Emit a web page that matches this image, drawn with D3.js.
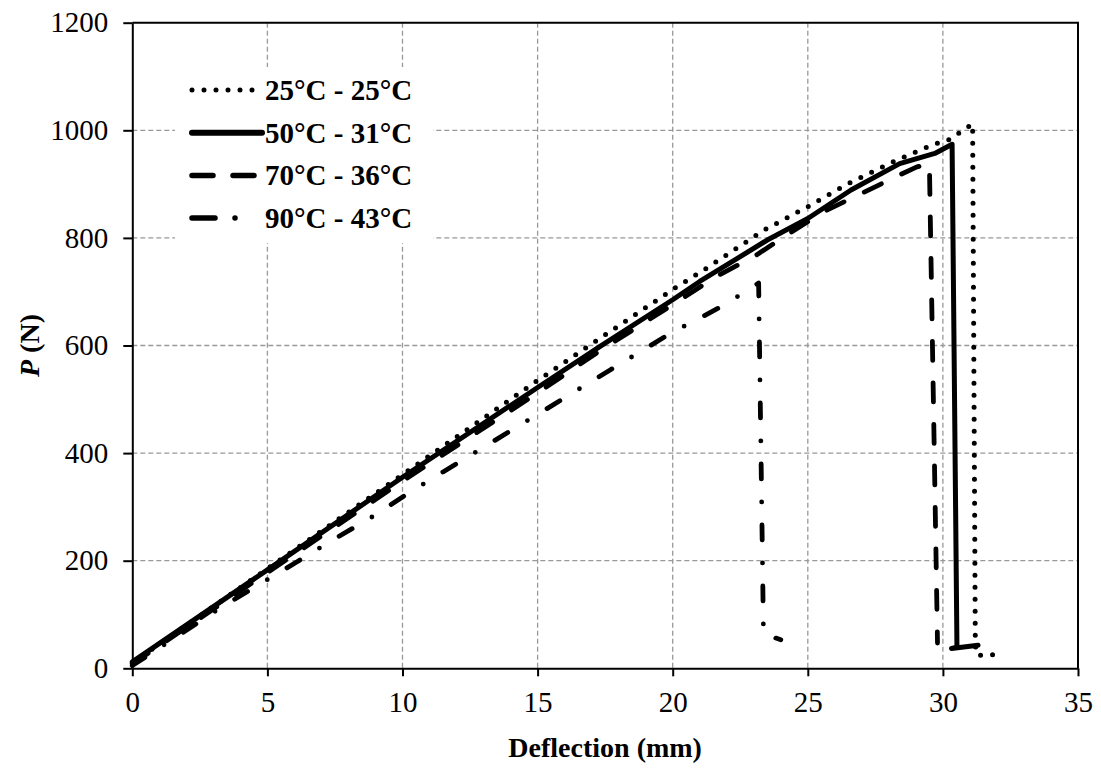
<!DOCTYPE html>
<html>
<head>
  <meta charset="utf-8">
  <title>Load - deflection</title>
  <script src="https://d3js.org/d3.v7.min.js"></script>
  <style>
    body {
      margin: 0;
      background: #fff;
    }
    svg text {
      font-family: 'Liberation Serif', 'Times New Roman', serif;
      fill: #000;
    }
  </style>
</head>
<body>
  <div id="chart"></div>

  <script>
    // Series (deflection in mm, load in N)
    const names = ["25°C - 25°C", "50°C - 31°C", "70°C - 36°C", "90°C - 43°C"];

    const x25 = [0, 5, 10, 15, 17.3, 20, 21.2, 23.4, 25, 26.5, 28.1, 29.7, 30.15, 31.1, 31.2, 31.26, 32.15];
    const y25 = [10, 185, 360, 535, 613, 704, 742, 815, 858, 901, 940, 975, 980, 1012, 43, 24, 26];

    const x50 = [0, 5, 10, 15, 17.3, 20, 21, 23.5, 25, 26.6, 28.4, 29.7, 30.34, 30.52, 30.32, 31.3];
    const y50 = [12, 183, 355, 522, 598, 685, 719, 796, 836, 889, 938, 957, 974, 39, 37, 43];

    const x70 = [0, 5, 10, 15, 17.3, 20, 21.6, 23, 24.3, 25.6, 27, 28.4, 29.04, 29.5, 29.8];
    const y70 = [8, 178, 348, 512, 590, 676, 728, 765, 808, 849, 883, 917, 932, 938, 47];

    const x90 = [0, 3.25, 6.1, 7.4, 8.8, 10.2, 11.5, 15, 17.7, 20, 21, 21.9, 23.18, 23.36, 24.0];
    const y90 = [5, 112, 198, 238, 279, 325, 365, 472, 555, 625, 651, 675, 716, 64, 53];

    const xTicks = [0, 5, 10, 15, 20, 25, 30, 35];
    const yTicks = [0, 200, 400, 600, 800, 1000, 1200];

    const width = 1101;
    const height = 772;
    const margin = {top: 22.7, right: 23, bottom: 103.7, left: 132.3};

    const svg = d3.select("#chart")
      .append("svg")
      .attr("width", width)
      .attr("height", height);

    const x = d3.scaleLinear()
      .domain([0, 35])
      .range([margin.left, width - margin.right]);

    const y = d3.scaleLinear()
      .domain([0, 1200])
      .range([height - margin.bottom, margin.top]);

    // dashed grey grid
    const grid = svg.append("g")
      .attr("stroke", "#999")
      .attr("stroke-width", 1.3)
      .attr("stroke-dasharray", "5,3");

    grid.selectAll("line.v")
      .data(xTicks.filter(d => d > 0 && d < 35))
      .join("line")
      .attr("class", "v")
      .attr("x1", d => x(d))
      .attr("x2", d => x(d))
      .attr("y1", y(1200))
      .attr("y2", y(0));

    grid.selectAll("line.h")
      .data(yTicks.filter(d => d > 0 && d < 1200))
      .join("line")
      .attr("class", "h")
      .attr("x1", x(0))
      .attr("x2", x(35))
      .attr("y1", d => y(d))
      .attr("y2", d => y(d));

    // top and right border
    svg.append("path")
      .attr("d", `M${x(0)},${y(1200)}H${x(35)}V${y(0)}`)
      .attr("fill", "none")
      .attr("stroke", "#000")
      .attr("stroke-width", 2);

    // axes
    const xAxis = svg.append("g")
      .attr("transform", `translate(0,${y(0)})`)
      .call(d3.axisBottom(x).tickValues(xTicks).tickFormat(d3.format("d"))
        .tickSize(8).tickSizeOuter(0).tickPadding(15));

    const yAxis = svg.append("g")
      .attr("transform", `translate(${x(0)},0)`)
      .call(d3.axisLeft(y).tickValues(yTicks).tickFormat(d3.format("d"))
        .tickSize(9).tickSizeOuter(0).tickPadding(15));

    [xAxis, yAxis].forEach(function(a) {
      a.select(".domain").attr("stroke-width", 2);
      a.selectAll(".tick line").attr("stroke-width", 2);
      a.selectAll(".tick text")
        .style("font-size", "29px")
        .style("font-family", "'Liberation Serif', serif");
    });

    // series styles
    const styles = [
      {dash: "0,12", width: 5},
      {dash: null, width: 5},
      {dash: "19,22.5", width: 4.8},
      {dash: "15,23,0,23", width: 4.8}
    ];

    const series = [
      {name: names[0], xs: x25, ys: y25},
      {name: names[1], xs: x50, ys: y50},
      {name: names[2], xs: x70, ys: y70},
      {name: names[3], xs: x90, ys: y90}
    ];

    const line = d3.line()
      .x(d => x(d[0]))
      .y(d => y(d[1]));

    series.forEach(function(s, i) {
      const pts = s.xs.map((v, j) => [v, s.ys[j]]);
      svg.append("path")
        .datum(pts)
        .attr("fill", "none")
        .attr("stroke", "#000")
        .attr("stroke-width", styles[i].width)
        .attr("stroke-linecap", "round")
        .attr("stroke-linejoin", "round")
        .attr("stroke-dasharray", styles[i].dash)
        .attr("d", line);
    });

    // legend (white box hides the grid behind it)
    const legend = svg.append("g");
    legend.append("rect")
      .attr("x", 175)
      .attr("y", 67)
      .attr("width", 258)
      .attr("height", 176)
      .attr("fill", "#fff");

    const legendDash = ["0,12", null, "21,20", "23,20,0,27,0,50"];
    const legendEnd = [254, 262, 255, 262];
    const legendWidth = [5, 6, 5.5, 5.5];

    names.forEach(function(n, i) {
      const ly = 90 + i * 42.7;
      legend.append("line")
        .attr("x1", 192)
        .attr("x2", legendEnd[i])
        .attr("y1", ly)
        .attr("y2", ly)
        .attr("stroke", "#000")
        .attr("stroke-width", legendWidth[i])
        .attr("stroke-linecap", "round")
        .attr("stroke-dasharray", legendDash[i]);
      legend.append("text")
        .attr("x", 265)
        .attr("y", ly)
        .attr("dy", "0.34em")
        .style("font-size", "29px")
        .style("font-weight", "bold")
        .text(n);
    });

    // axis titles
    svg.append("text")
      .attr("x", (x(0) + x(35)) / 2)
      .attr("y", 757)
      .attr("text-anchor", "middle")
      .style("font-size", "28px")
      .style("font-weight", "bold")
      .text("Deflection (mm)");

    const yTitle = svg.append("text")
      .attr("transform", `translate(39,${(y(0) + y(1200)) / 2}) rotate(-90)`)
      .attr("text-anchor", "middle")
      .style("font-size", "28px")
      .style("font-weight", "bold");
    yTitle.append("tspan").style("font-style", "italic").text("P");
    yTitle.append("tspan").text(" (N)");
  </script>
</body>
</html>
